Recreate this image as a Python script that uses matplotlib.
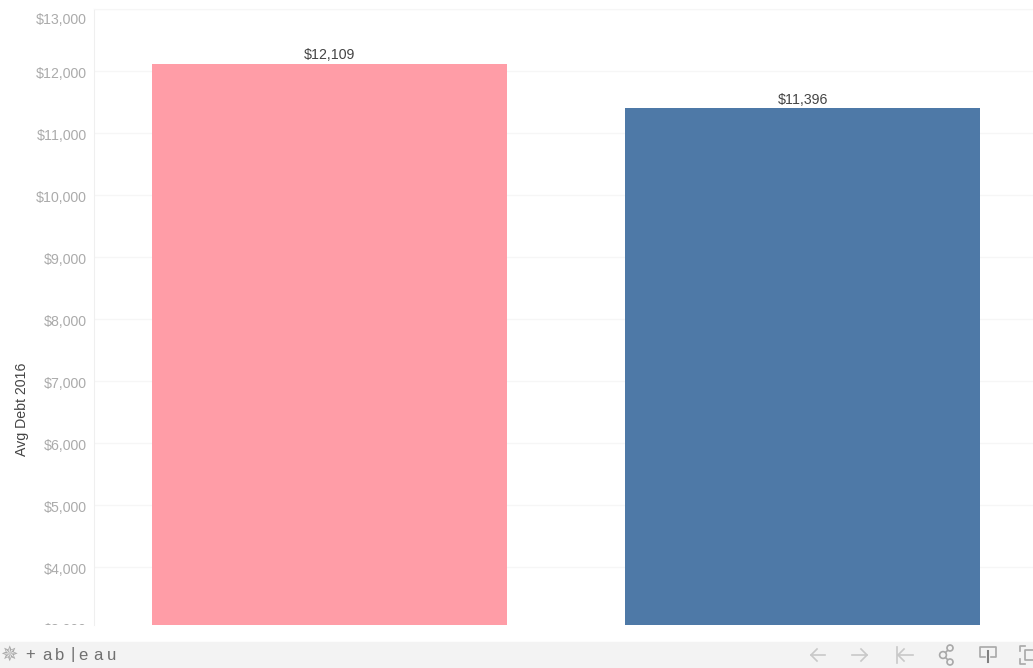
import matplotlib
matplotlib.use("Agg")
import matplotlib.pyplot as plt
from matplotlib.patches import Circle, Rectangle
from matplotlib.transforms import Affine2D, Bbox, IdentityTransform

categories = ["A", "B"]
avg_debt = [12109, 11396]
bar_labels = ["$12,109", "$11,396"]
bar_colors = ["#FF9DA7", "#4E79A7"]
y_ticks = [4000, 5000, 6000, 7000, 8000, 9000, 10000, 11000, 12000, 13000]
y_tick_labels = ["$4,000", "$5,000", "$6,000", "$7,000", "$8,000", "$9,000", "$10,000", "$11,000", "$12,000", "$13,000"]
y_label = "Avg Debt 2016"

W, H = 1033, 668
plt.rcParams["font.family"] = ["Liberation Sans", "DejaVu Sans"]

fig = plt.figure(figsize=(W / 100, H / 100), dpi=100)


def px(x, y):
    # pixel position (top left origin) to figure fraction
    return x / W, 1 - y / H


# plot area
left, top, right, bottom = 94, 9, 1033, 625
ax = fig.add_axes([left / W, 1 - bottom / H, (right - left) / W, (bottom - top) / H])
ax.set_xlim(-0.497, 1.486)
ax.set_ylim(3065, 13000)

ax.bar(range(len(categories)), avg_debt, width=0.75, color=bar_colors, zorder=3)
for i, v in enumerate(avg_debt):
    ax.text(i, v + 30, bar_labels[i], ha="center", va="bottom", fontsize=10.2, color="#444444")

ax.set_xticks([])
ax.set_yticks(y_ticks)
ax.set_yticklabels(y_tick_labels, fontsize=10.2, color="#ababab")
ax.tick_params(axis="y", length=0, pad=5)
ax.grid(axis="y", color="#f6f6f6", linewidth=1, zorder=0)
for side in ["right", "bottom"]:
    ax.spines[side].set_visible(False)
ax.spines["left"].set_color("#efefef")
ax.spines["top"].set_color("#f6f6f6")

# labels sit a pixel under their gridline, the top one is pushed down to stay inside
for tick_value, lab in zip(y_ticks, ax.get_yticklabels()):
    shift = -9 if tick_value == 13000 else -1.5
    lab.set_transform(lab.get_transform() + Affine2D().translate(0, shift))

# the $3,000 label is cut off at the bottom of the plot area
cut = ax.text(87, H - 630, "$3,000", fontsize=10.2, color="#ababab", ha="right", va="center",
              transform=IdentityTransform(), clip_on=True)
cut.set_clip_box(Bbox([[0, H - 625], [94, H]]))

fig.text(*px(22.5, 409), y_label, rotation=90, ha="center", va="center", fontsize=10.2, color="#444444")

# toolbar
fig.add_artist(Rectangle((0, 0), 1, 26 / H, transform=fig.transFigure, color="#f3f3f3", zorder=0))

logo_x = [30, 47, 60, 73, 83, 98, 112]
logo_chars = ["+", "a", "b", "|", "e", "a", "u"]
for x, c in zip(logo_x, logo_chars):
    fig.text(*px(x, 655), c, ha="center", va="center", fontsize=12, color="#707070")
fig.text(*px(9, 655), "\u2735", ha="center", va="center", fontsize=15, color="#a8a8a8", family="DejaVu Sans")


def line(xs, ys, color="#c8c8c8", lw=1.2):
    fx = [x / W for x in xs]
    fy = [1 - y / H for y in ys]
    fig.add_artist(plt.Line2D(fx, fy, color=color, linewidth=lw))


# back, forward and reset arrows
line([825, 811], [655, 655])
line([817, 811, 817], [649, 655, 661])
line([852, 867], [655, 655])
line([861, 867, 861], [649, 655, 661])
line([897, 897], [647, 663])
line([898, 913], [655, 655])
line([904, 898, 904], [649, 655, 661])

# share icon
dark = "#a8a8a8"
line([943, 950], [655, 648], dark)
line([943, 950], [655, 662], dark)
for cx, cy, r in [(943, 655, 3.4), (950, 648, 3), (950, 662, 3)]:
    fig.add_artist(Circle((cx, H - cy), r, transform=IdentityTransform(), facecolor="#f3f3f3",
                          edgecolor=dark, linewidth=1.2, zorder=5))

# download icon
line([985, 980, 980, 996, 996, 991], [657, 657, 647, 647, 657, 657], dark)
line([988, 988], [651, 662], "#808080", 1.5)

# fullscreen icon, runs off the edge
line([1033, 1025, 1025, 1033], [650, 650, 660, 660], dark)
line([1025, 1020, 1020], [646, 646, 651], dark)
line([1020, 1020, 1025], [659, 664, 664], dark)

fig.savefig("out.png", dpi=100)
